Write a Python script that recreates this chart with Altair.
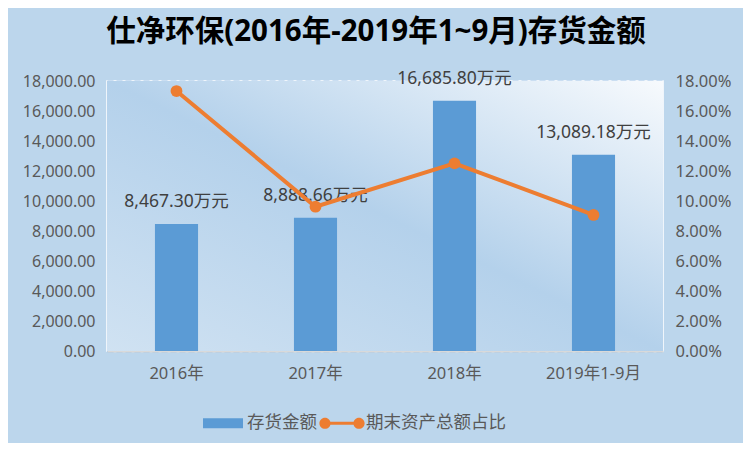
import altair as alt
import pandas as pd

years = ["2016年", "2017年", "2018年", "2019年1-9月"]
inventory = [8467.30, 8888.66, 16685.80, 13089.18]
ratio = [0.1733, 0.0962, 0.1251, 0.0907]
series_names = ["存货金额", "期末资产总额占比"]

df = pd.DataFrame({
    "year": years,
    "inventory": inventory,
    "ratio": ratio,
    "label": [f"{v:,.2f}万元" for v in inventory],
})
legend_df = pd.DataFrame({"year": years[:2], "inventory": inventory[:2], "series": series_names})

FONT = "Noto Sans, Noto Sans CJK SC"
BLUE = "#5b9bd5"
ORANGE = "#ed7d31"
GREY = "#595959"

bar_path = "M-1,-0.25 L1,-0.25 L1,0.25 L-1,0.25 Z"
line_path = ("M-0.85,-0.08 L0.85,-0.08 L0.85,0.08 L-0.85,0.08 Z "
             "M-1.13,0 A0.28,0.28 0 1,1 -0.57,0 A0.28,0.28 0 1,1 -1.13,0 Z "
             "M0.57,0 A0.28,0.28 0 1,1 1.13,0 A0.28,0.28 0 1,1 0.57,0 Z")

x_enc = alt.X("year:N", sort=years, title=None,
              scale=alt.Scale(paddingInner=0.69, paddingOuter=0.345),
              axis=alt.Axis(labelAngle=0, labelFont=FONT, labelFontSize=16.5, labelColor=GREY,
                            ticks=False, domainColor="#d9d9d9", domainWidth=2, labelPadding=14,
                            grid=False))

bg = alt.Chart(pd.DataFrame({"a": [1]})).mark_rect(
    color=alt.Gradient(gradient="linear", x1=0, y1=1, x2=1, y2=0,
                       stops=[alt.GradientStop(color="#d0e2f2", offset=0),
                              alt.GradientStop(color="#b4d1eb", offset=0.5),
                              alt.GradientStop(color="#f7fafd", offset=1)])
).encode(opacity=alt.value(1))

y_left = alt.Y("inventory:Q", title=None,
               scale=alt.Scale(domain=[0, 18000], nice=False),
               axis=alt.Axis(values=list(range(0, 18001, 2000)), format=",.2f",
                             labelFont=FONT, labelFontSize=16, labelColor=GREY,
                             ticks=False, domain=False, labelPadding=12,
                             grid=True, gridColor=BLUE, gridDash=[6, 3], gridWidth=1.5))

bars = alt.Chart(df).mark_bar(color=BLUE).encode(x=x_enc, y=y_left)
labels = alt.Chart(df).mark_text(baseline="bottom", dy=-13, font=FONT, fontSize=17.5,
                                 color="#404040").encode(x=x_enc, y=y_left, text="label:N")
legend_pts = alt.Chart(legend_df).mark_point(filled=True, opacity=0, size=1600).encode(
    x=x_enc, y=y_left,
    color=alt.Color("series:N", scale=alt.Scale(domain=series_names, range=[BLUE, ORANGE]),
                    legend=alt.Legend(title=None, orient="none", legendX=96, legendY=322,
                                      direction="horizontal", symbolOpacity=1, symbolSize=1600,
                                      labelFont="Noto Sans CJK SC", labelFontSize=17.5,
                                      labelColor=GREY, labelOffset=4, columnPadding=2,
                                      symbolStrokeWidth=0)),
    shape=alt.Shape("series:N", scale=alt.Scale(domain=series_names, range=[bar_path, line_path]),
                    legend=None),
)
left = alt.layer(bg, bars, labels, legend_pts)

y_right = alt.Y("ratio:Q", title=None,
                scale=alt.Scale(domain=[0, 0.18], nice=False),
                axis=alt.Axis(orient="right", values=[i / 100 for i in range(0, 19, 2)],
                              format=".2%", labelFont=FONT, labelFontSize=16.5, labelColor=GREY,
                              ticks=False, domain=False, labelPadding=12, grid=False))
line = alt.Chart(df).mark_line(color=ORANGE, strokeWidth=4,
                               point=alt.OverlayMarkDef(color=ORANGE, size=140, filled=True, opacity=1)
                               ).encode(x=x_enc, y=y_right)

chart = alt.layer(left, line).resolve_scale(y="independent", color="independent", shape="independent").properties(
    width=556, height=270,
    title=alt.Title("仕净环保(2016年-2019年1~9月)存货金额", font=FONT, fontSize=29.5, fontWeight="bold",
                    color="#000000", anchor="middle", offset=22, dx=-9),
    autosize=alt.AutoSizeParams(type="none"),
    padding={"left": 99, "top": 73, "right": 80, "bottom": 92},
    background="#bcd6ec",
).configure_view(stroke="#ffffff", strokeWidth=1.5)

chart.save("out.html", embed_options={"renderer": "svg", "actions": False})
